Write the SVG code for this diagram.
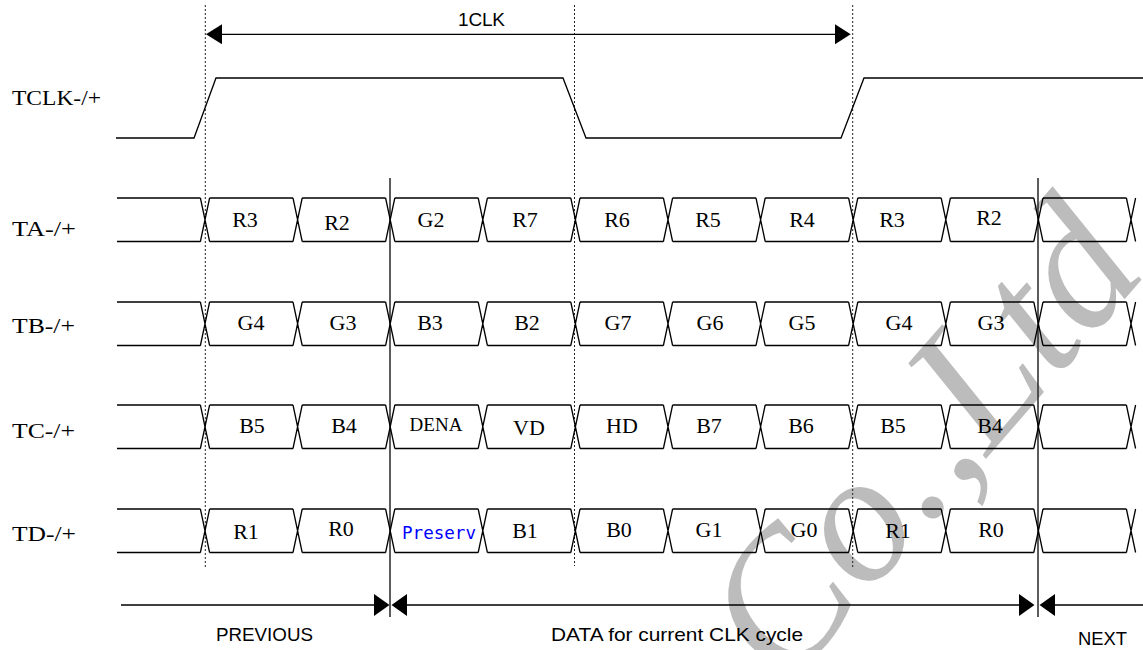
<svg xmlns="http://www.w3.org/2000/svg" width="1143" height="650" viewBox="0 0 1143 650">
<style>
.wave{fill:none;stroke:#000;stroke-width:1.3}
.dot{fill:none;stroke:#222;stroke-width:1;stroke-dasharray:2,2}
.solid{fill:none;stroke:#333;stroke-width:1.6}
.lbl{font-family:"Liberation Serif","Times New Roman",serif;font-size:22px;fill:#000}
.cell{font-family:"Liberation Serif","Times New Roman",serif;font-size:22px;fill:#000;text-anchor:middle}
.sans{font-family:"Liberation Sans",Arial,sans-serif;font-size:19px;fill:#000}
.mono{font-family:"DejaVu Sans Mono","Liberation Mono",monospace;font-size:17px;fill:#0000ff;text-anchor:middle}
.wm{font-family:"Liberation Serif","Times New Roman",serif;font-style:italic;font-size:185px;fill:#bcbcbc}
.ah{fill:#000;stroke:none}
</style>
<defs>
<path id="row" class="wave" d="M117,0 H200.4 M209.6,0 H293 M302.2,0 H385.6 M394.8,0 H478.2 M487.4,0 H570.8 M580,0 H663.4 M672.6,0 H756 M765.2,0 H848.6 M857.8,0 H941.2 M950.4,0 H1033.8 M1043,0 H1126.4 M117,43.5 H200.4 M209.6,43.5 H293 M302.2,43.5 H385.6 M394.8,43.5 H478.2 M487.4,43.5 H570.8 M580,43.5 H663.4 M672.6,43.5 H756 M765.2,43.5 H848.6 M857.8,43.5 H941.2 M950.4,43.5 H1033.8 M1043,43.5 H1126.4 M200.4,0 L209.6,43.5 M209.6,0 L200.4,43.5 M293,0 L302.2,43.5 M302.2,0 L293,43.5 M385.6,0 L394.8,43.5 M394.8,0 L385.6,43.5 M478.2,0 L487.4,43.5 M487.4,0 L478.2,43.5 M570.8,0 L580,43.5 M580,0 L570.8,43.5 M663.4,0 L672.6,43.5 M672.6,0 L663.4,43.5 M756,0 L765.2,43.5 M765.2,0 L756,43.5 M848.6,0 L857.8,43.5 M857.8,0 L848.6,43.5 M941.2,0 L950.4,43.5 M950.4,0 L941.2,43.5 M1033.8,0 L1043,43.5 M1043,0 L1033.8,43.5 M1126.4,0 L1135.6,43.5 M1135.6,0 L1126.4,43.5"/>
</defs>
<rect width="1143" height="650" fill="#fff"/>
<text class="wm" x="0" y="0" transform="translate(785,690) rotate(-49)">Co.,Ltd</text>
<g id="connectors">
<line class="dot" x1="205.3" y1="5" x2="205.3" y2="569"/>
<line class="dot" x1="574.5" y1="5" x2="574.5" y2="566"/>
<line class="dot" x1="852.7" y1="5" x2="852.7" y2="568"/>
<line class="solid" x1="390" y1="178" x2="390" y2="617"/>
<line class="solid" x1="1038" y1="178" x2="1038" y2="617"/>
<line class="wave" x1="221" y1="34.3" x2="836" y2="34.3"/>
<polygon class="ah" points="206,34.3 222,24.3 222,44.3"/>
<polygon class="ah" points="850.7,34.3 835,24.3 835,44.3"/>
<line class="wave" x1="121" y1="605" x2="375" y2="605"/>
<polygon class="ah" points="389.5,605 374,594 374,616"/>
<polygon class="ah" points="391.5,605 407,594 407,616"/>
<line class="wave" x1="406" y1="605" x2="1020" y2="605"/>
<polygon class="ah" points="1034.5,605 1019,594 1019,616"/>
<polygon class="ah" points="1039.5,605 1055,594 1055,616"/>
<line class="wave" x1="1054" y1="605" x2="1143" y2="605"/>
</g>
<g id="label-1clk"><text class="sans" x="458" y="26" textLength="47">1CLK</text></g>
<g id="period-labels">
<text class="sans" x="216" y="641" textLength="97" lengthAdjust="spacingAndGlyphs">PREVIOUS</text>
<text class="sans" x="551" y="641" textLength="252" lengthAdjust="spacingAndGlyphs">DATA for current CLK cycle</text>
<text class="sans" x="1078" y="645" textLength="49" lengthAdjust="spacingAndGlyphs">NEXT</text>
</g>
<g id="sig-tclk">
<text class="lbl" x="12" y="105" textLength="89" lengthAdjust="spacingAndGlyphs">TCLK-/+</text>
<path class="wave" d="M116,138 H194 L216,78 H563 L586,138 H841 L864,78 H1143"/>
</g>
<g id="sig-ta">
<text class="lbl" x="12" y="236" textLength="64" lengthAdjust="spacingAndGlyphs">TA-/+</text>
<use href="#row" transform="translate(0,198)"/>
<text class="cell" x="245" y="227">R3</text>
<text class="cell" x="337" y="230">R2</text>
<text class="cell" x="431" y="227">G2</text>
<text class="cell" x="525" y="227">R7</text>
<text class="cell" x="617" y="227">R6</text>
<text class="cell" x="708" y="227">R5</text>
<text class="cell" x="802" y="227">R4</text>
<text class="cell" x="892" y="227">R3</text>
<text class="cell" x="989" y="225">R2</text>
</g>
<g id="sig-tb">
<text class="lbl" x="12" y="333" textLength="63" lengthAdjust="spacingAndGlyphs">TB-/+</text>
<use href="#row" transform="translate(0,302)"/>
<text class="cell" x="251" y="330">G4</text>
<text class="cell" x="343" y="330">G3</text>
<text class="cell" x="430" y="330">B3</text>
<text class="cell" x="527" y="330">B2</text>
<text class="cell" x="618" y="330">G7</text>
<text class="cell" x="710" y="330">G6</text>
<text class="cell" x="802" y="330">G5</text>
<text class="cell" x="899" y="330">G4</text>
<text class="cell" x="991" y="330">G3</text>
</g>
<g id="sig-tc">
<text class="lbl" x="12" y="438" textLength="63" lengthAdjust="spacingAndGlyphs">TC-/+</text>
<use href="#row" transform="translate(0,405)"/>
<text class="cell" x="252" y="433">B5</text>
<text class="cell" x="344" y="433">B4</text>
<text class="cell" x="436" y="431" style="font-size:19px">DENA</text>
<text class="cell" x="529" y="435">VD</text>
<text class="cell" x="622" y="433">HD</text>
<text class="cell" x="709" y="433">B7</text>
<text class="cell" x="801" y="433">B6</text>
<text class="cell" x="893" y="433">B5</text>
<text class="cell" x="990" y="433">B4</text>
</g>
<g id="sig-td">
<text class="lbl" x="12" y="541" textLength="64" lengthAdjust="spacingAndGlyphs">TD-/+</text>
<use href="#row" transform="translate(0,509)"/>
<text class="cell" x="246" y="539">R1</text>
<text class="cell" x="341" y="536">R0</text>
<text class="mono" x="439" y="539" textLength="74" lengthAdjust="spacingAndGlyphs">Preserv</text>
<text class="cell" x="525" y="538">B1</text>
<text class="cell" x="619" y="537">B0</text>
<text class="cell" x="709" y="537">G1</text>
<text class="cell" x="804" y="537">G0</text>
<text class="cell" x="898" y="538">R1</text>
<text class="cell" x="991" y="537">R0</text>
</g>
</svg>
